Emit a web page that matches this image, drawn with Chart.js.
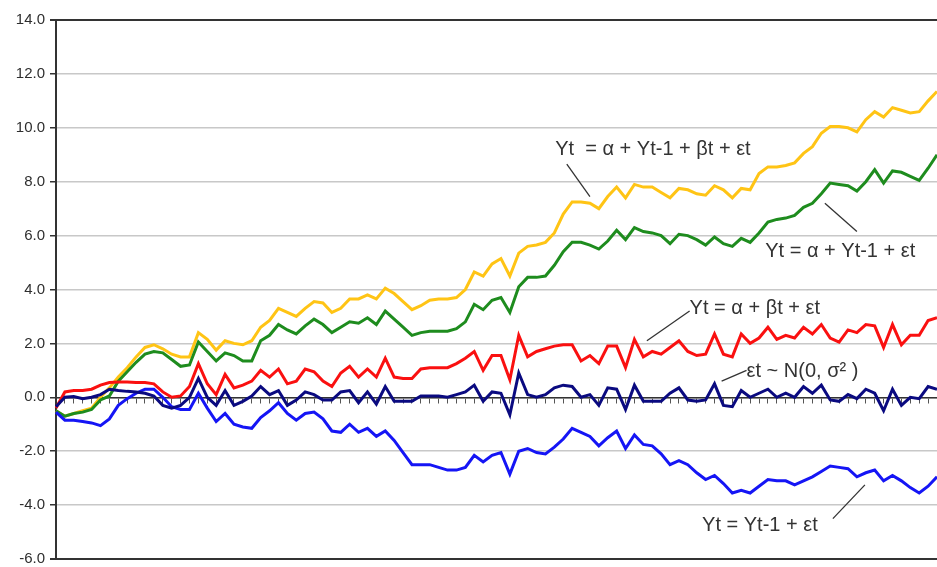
<!DOCTYPE html>
<html>
<head>
<meta charset="utf-8">
<script src="https://cdn.jsdelivr.net/npm/chart.js@4.4.1/dist/chart.umd.min.js"></script>
<style>
  html, body { margin: 0; padding: 0; background: #fff; }
  #wrap { width: 937px; height: 567px; position: relative; }
</style>
</head>
<body>
<div id="wrap"><canvas id="seriesChart"></canvas></div>
<script>
// periods t = 0..99
var periods = [];
for (var t = 0; t < 100; t++) periods.push(t);

// Yt = a + Yt-1 + bt + et
var trendDrift = [-0.5, -0.7, -0.6, -0.5, -0.4, 0.0, 0.35, 0.75, 1.1, 1.5,
  1.85, 1.95, 1.8, 1.6, 1.5, 1.5, 2.4, 2.15, 1.75, 2.1,
  2.0, 1.95, 2.1, 2.6, 2.85, 3.3, 3.15, 3.0, 3.3, 3.55,
  3.5, 3.15, 3.3, 3.65, 3.65, 3.8, 3.65, 4.05, 3.85, 3.55,
  3.25, 3.4, 3.6, 3.65, 3.65, 3.7, 4.0, 4.65, 4.5, 4.95,
  5.15, 4.5, 5.35, 5.6, 5.65, 5.75, 6.1, 6.8, 7.25, 7.25,
  7.2, 7.0, 7.45, 7.8, 7.4, 7.9, 7.8, 7.8, 7.6, 7.4,
  7.75, 7.7, 7.55, 7.5, 7.85, 7.7, 7.4, 7.75, 7.7, 8.3,
  8.55, 8.55, 8.6, 8.7, 9.05, 9.3, 9.8, 10.05, 10.05, 10.0,
  9.85, 10.3, 10.6, 10.4, 10.75, 10.65, 10.55, 10.6, 11.0, 11.35];

// Yt = a + Yt-1 + et
var drift = [-0.5, -0.7, -0.6, -0.55, -0.45, -0.1, 0.05, 0.6, 0.95, 1.3,
  1.6, 1.7, 1.65, 1.4, 1.15, 1.2, 2.05, 1.7, 1.35, 1.65,
  1.55, 1.35, 1.35, 2.1, 2.3, 2.7, 2.5, 2.35, 2.65, 2.9,
  2.7, 2.4, 2.6, 2.8, 2.75, 2.95, 2.7, 3.2, 2.9, 2.6,
  2.3, 2.4, 2.45, 2.45, 2.45, 2.55, 2.8, 3.45, 3.25, 3.6,
  3.7, 3.15, 4.1, 4.45, 4.45, 4.5, 4.9, 5.4, 5.75, 5.75,
  5.65, 5.5, 5.8, 6.2, 5.85, 6.3, 6.15, 6.1, 6.0, 5.7,
  6.05, 6.0, 5.85, 5.65, 5.95, 5.7, 5.6, 5.9, 5.75, 6.1,
  6.5, 6.6, 6.65, 6.75, 7.05, 7.2, 7.55, 7.95, 7.9, 7.85,
  7.65, 8.0, 8.45, 7.95, 8.4, 8.35, 8.2, 8.05, 8.5, 9.0];

// Yt = a + bt + et
var trend = [-0.4, 0.2, 0.25, 0.25, 0.3, 0.45, 0.55, 0.57, 0.57, 0.55,
  0.55, 0.5, 0.2, 0.0, 0.05, 0.4, 1.25, 0.5, 0.1, 0.85,
  0.35, 0.45, 0.6, 1.0, 0.75, 1.05, 0.5, 0.6, 1.05, 0.95,
  0.6, 0.4, 0.9, 1.15, 0.75, 1.05, 0.75, 1.45, 0.75, 0.7,
  0.7, 1.05, 1.1, 1.1, 1.1, 1.25, 1.45, 1.7, 1.0, 1.55,
  1.55, 0.65, 2.3, 1.5, 1.7, 1.8, 1.9, 1.95, 1.95, 1.35,
  1.55, 1.25, 1.9, 1.9, 1.1, 2.15, 1.5, 1.7, 1.6, 1.85,
  2.1, 1.7, 1.55, 1.6, 2.35, 1.6, 1.5, 2.35, 2.0, 2.2,
  2.6, 2.15, 2.3, 2.2, 2.6, 2.35, 2.7, 2.2, 2.05, 2.5,
  2.4, 2.7, 2.65, 1.85, 2.7, 1.95, 2.3, 2.3, 2.85, 2.95];

// et ~ N(0, s2)
var noise = [-0.35, 0.0, 0.03, -0.05, 0.0, 0.1, 0.3, 0.25, 0.22, 0.2,
  0.15, 0.05, -0.3, -0.4, -0.3, 0.0, 0.7, 0.0, -0.3, 0.25,
  -0.3, -0.15, 0.05, 0.4, 0.1, 0.25, -0.3, -0.1, 0.2, 0.1,
  -0.1, -0.1, 0.2, 0.25, -0.2, 0.2, -0.25, 0.4, -0.15, -0.15,
  -0.15, 0.05, 0.05, 0.05, 0.0, 0.1, 0.2, 0.45, -0.15, 0.2,
  0.15, -0.65, 0.9, 0.1, 0.0, 0.1, 0.35, 0.45, 0.4, 0.0,
  0.1, -0.3, 0.35, 0.3, -0.45, 0.45, -0.15, -0.15, -0.15, 0.15,
  0.35, -0.1, -0.15, -0.1, 0.5, -0.3, -0.35, 0.25, 0.0, 0.15,
  0.3, 0.0, 0.15, 0.0, 0.4, 0.15, 0.45, -0.1, -0.15, 0.1,
  -0.05, 0.3, 0.15, -0.5, 0.3, -0.3, 0.0, -0.05, 0.4, 0.3];

// Yt = Yt-1 + et
var randomWalk = [-0.55, -0.85, -0.85, -0.9, -0.95, -1.05, -0.8, -0.3, -0.05, 0.15,
  0.3, 0.3, 0.0, -0.35, -0.45, -0.45, 0.15, -0.4, -0.9, -0.6,
  -1.0, -1.1, -1.15, -0.75, -0.5, -0.2, -0.6, -0.85, -0.6, -0.55,
  -0.8, -1.25, -1.3, -1.0, -1.3, -1.15, -1.45, -1.25, -1.6, -2.05,
  -2.5, -2.5, -2.5, -2.6, -2.7, -2.7, -2.6, -2.15, -2.4, -2.15,
  -2.05, -2.85, -2.0, -1.9, -2.05, -2.1, -1.85, -1.55, -1.15, -1.3,
  -1.45, -1.8, -1.5, -1.25, -1.9, -1.4, -1.75, -1.8, -2.1, -2.5,
  -2.35, -2.5, -2.8, -3.05, -2.9, -3.2, -3.55, -3.45, -3.55, -3.3,
  -3.05, -3.1, -3.1, -3.25, -3.1, -2.95, -2.75, -2.55, -2.6, -2.65,
  -2.95, -2.8, -2.7, -3.1, -2.9, -3.1, -3.35, -3.55, -3.3, -2.95];

// labels placed in data units: [text, textT, textY, lineFromT, lineFromY, lineToT, lineToY]
var notes = [
  ['Yt  = \u03b1 + Yt-1 + \u03b2t + \u03b5t', 56.1, 9.2, 57.4, 8.65, 60.0, 7.45],
  ['Yt = \u03b1 + Yt-1 + \u03b5t', 79.7, 5.4, 86.4, 7.2, 90.0, 6.15],
  ['Yt = \u03b1 + \u03b2t + \u03b5t', 71.2, 3.3, 66.4, 2.1, 71.2, 3.2],
  ['\u03b5t ~ N(0, \u03c3\u00b2 )', 77.6, 0.95, 74.8, 0.6, 77.6, 1.0],
  ['Yt = Yt-1 + \u03b5t', 72.6, -4.75, 87.3, -4.5, 90.9, -3.25]
];

var notePlugin = {
  id: 'notes',
  afterDatasetsDraw: function (chart) {
    var ctx = chart.ctx, x = chart.scales.x, y = chart.scales.y;
    ctx.save();
    ctx.strokeStyle = '#333';
    ctx.lineWidth = 1.3;
    ctx.fillStyle = '#333';
    ctx.font = '20px "Liberation Sans", Arial, sans-serif';
    ctx.textBaseline = 'middle';
    ctx.textAlign = 'left';
    notes.forEach(function (n) {
      ctx.beginPath();
      ctx.moveTo(x.getPixelForValue(n[3]), y.getPixelForValue(n[4]));
      ctx.lineTo(x.getPixelForValue(n[5]), y.getPixelForValue(n[6]));
      ctx.stroke();
      ctx.fillText(n[0], x.getPixelForValue(n[1]), y.getPixelForValue(n[2]));
    });
    ctx.restore();
  }
};

var ctx = document.getElementById('seriesChart').getContext('2d');
var seriesChart = new Chart(ctx, {
  type: 'line',
  data: {
    labels: periods,
    datasets: [
      { data: noise, borderColor: '#0a0a80', borderWidth: 3 },
      { data: randomWalk, borderColor: '#1515f5', borderWidth: 3 },
      { data: trend, borderColor: '#fa1010', borderWidth: 3 },
      { data: drift, borderColor: '#1e8c1e', borderWidth: 3 },
      { data: trendDrift, borderColor: '#ffc415', borderWidth: 3 }
    ]
  },
  options: {
    responsive: true,
    maintainAspectRatio: false,
    animation: false,
    layout: { padding: { top: 20, bottom: 8, left: 0, right: 0 } },
    elements: { point: { radius: 0 }, line: { tension: 0, fill: false } },
    plugins: { legend: { display: false }, tooltip: { enabled: false } },
    scales: {
      x: {
        type: 'category',
        offset: false,
        position: { y: 0 },
        ticks: { display: false, autoSkip: false },
        grid: { drawOnChartArea: false, drawTicks: true, tickLength: 5, color: '#555', lineWidth: 1 },
        border: { color: '#333', width: 1.5 }
      },
      y: {
        min: -6,
        max: 14,
        ticks: {
          stepSize: 2,
          padding: 5,
          color: '#2e2e2e',
          font: { family: '"Liberation Sans", Arial, sans-serif', size: 15 },
          callback: function (v) { return v.toFixed(1); }
        },
        grid: {
          tickLength: 6,
          tickColor: '#333',
          lineWidth: function (c) { return (c.tick && (c.tick.value === 14 || c.tick.value === -6)) ? 2 : 1.5; },
          color: function (c) { return (c.tick && (c.tick.value === 14 || c.tick.value === -6)) ? '#333' : '#c8c8c8'; }
        },
        border: { color: '#333', width: 2 },
        afterFit: function (s) { s.width = 56; s.paddingTop = 0; s.paddingBottom = 0; }
      }
    }
  },
  plugins: [notePlugin]
});
</script>
</body>
</html>
